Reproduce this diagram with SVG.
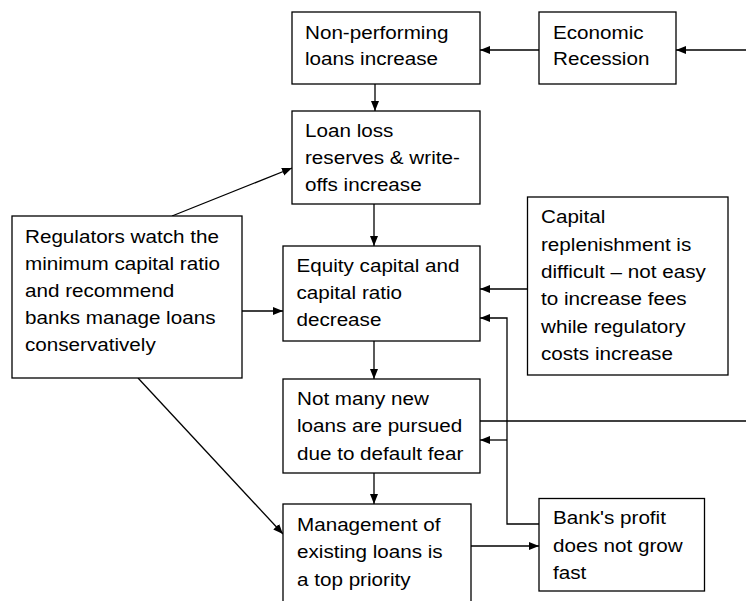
<svg xmlns="http://www.w3.org/2000/svg" width="746" height="601" viewBox="0 0 746 601">
<defs>
<marker id="ah" viewBox="0 0 10 10" refX="10" refY="5" markerWidth="10" markerHeight="10" markerUnits="userSpaceOnUse" orient="auto">
<path d="M0,1 L10,5 L0,9 Z" fill="#000"/>
</marker>
<style>
.box{fill:#fff;stroke:#000;stroke-width:1.3}
.t{font-family:"Liberation Sans",Arial,sans-serif;font-size:18.5px;fill:#000}
.c{fill:none;stroke:#000;stroke-width:1.3}
.a{marker-end:url(#ah)}
</style>
</defs>
<rect width="746" height="601" fill="#fff"/>
<g id="connectors">
<path class="c a" d="M746,50 H676"/>
<path class="c a" d="M539,50 H480"/>
<path class="c a" d="M375,84 V111"/>
<path class="c a" d="M374,204 V246"/>
<path class="c a" d="M172,216 L292,168"/>
<path class="c a" d="M242,311 H283"/>
<path class="c a" d="M527,289 H480"/>
<path class="c a" d="M374,341 V379"/>
<path class="c" d="M480,421 H746"/>
<path class="c a" d="M539,524 H507 V318 H480"/>
<path class="c a" d="M507,440 H480"/>
<path class="c a" d="M374,473 V504"/>
<path class="c a" d="M138,378 L283,534"/>
<path class="c a" d="M471,546 H539"/>
</g>
<g id="n1">
<rect class="box" x="292" y="12" width="188" height="72"/>
<text class="t" transform="matrix(1.116 0 0 1 305 0)"><tspan x="0" y="39">Non-performing</tspan><tspan x="0" y="65.5">loans increase</tspan></text>
</g>
<g id="n2">
<rect class="box" x="539" y="12" width="137" height="72"/>
<text class="t" transform="matrix(1.116 0 0 1 553 0)"><tspan x="0" y="39">Economic</tspan><tspan x="0" y="65.5">Recession</tspan></text>
</g>
<g id="n3">
<rect class="box" x="292" y="111" width="188" height="93"/>
<text class="t" transform="matrix(1.116 0 0 1 305 0)"><tspan x="0" y="137">Loan loss</tspan><tspan x="0" y="164.5">reserves &amp; write-</tspan><tspan x="0" y="191.5">offs increase</tspan></text>
</g>
<g id="n4">
<rect class="box" x="12" y="216" width="230" height="162"/>
<text class="t" transform="matrix(1.116 0 0 1 25 0)"><tspan x="0" y="243">Regulators watch the</tspan><tspan x="0" y="270">minimum capital ratio</tspan><tspan x="0" y="297">and recommend</tspan><tspan x="0" y="324">banks manage loans</tspan><tspan x="0" y="351">conservatively</tspan></text>
</g>
<g id="n5">
<rect class="box" x="283" y="246" width="197" height="95"/>
<text class="t" transform="matrix(1.116 0 0 1 296.5 0)"><tspan x="0" y="272">Equity capital and</tspan><tspan x="0" y="299">capital ratio</tspan><tspan x="0" y="326">decrease</tspan></text>
</g>
<g id="n6">
<rect class="box" x="527.5" y="197" width="200.5" height="178"/>
<text class="t" transform="matrix(1.116 0 0 1 541 0)"><tspan x="0" y="223.5">Capital</tspan><tspan x="0" y="250.8">replenishment is</tspan><tspan x="0" y="278">difficult – not easy</tspan><tspan x="0" y="305.3">to increase fees</tspan><tspan x="0" y="332.6">while regulatory</tspan><tspan x="0" y="360">costs increase</tspan></text>
</g>
<g id="n7">
<rect class="box" x="283" y="379" width="197" height="94"/>
<text class="t" transform="matrix(1.116 0 0 1 297 0)"><tspan x="0" y="405">Not many new</tspan><tspan x="0" y="432.5">loans are pursued</tspan><tspan x="0" y="460">due to default fear</tspan></text>
</g>
<g id="n8">
<rect class="box" x="283" y="504" width="188" height="110"/>
<text class="t" transform="matrix(1.116 0 0 1 297 0)"><tspan x="0" y="531">Management of</tspan><tspan x="0" y="558.3">existing loans is</tspan><tspan x="0" y="585.7">a top priority</tspan></text>
</g>
<g id="n9">
<rect class="box" x="539" y="498.5" width="165.5" height="92.5"/>
<text class="t" transform="matrix(1.116 0 0 1 553 0)"><tspan x="0" y="524.5">Bank's profit</tspan><tspan x="0" y="552.5">does not grow</tspan><tspan x="0" y="579">fast</tspan></text>
</g>
</svg>
